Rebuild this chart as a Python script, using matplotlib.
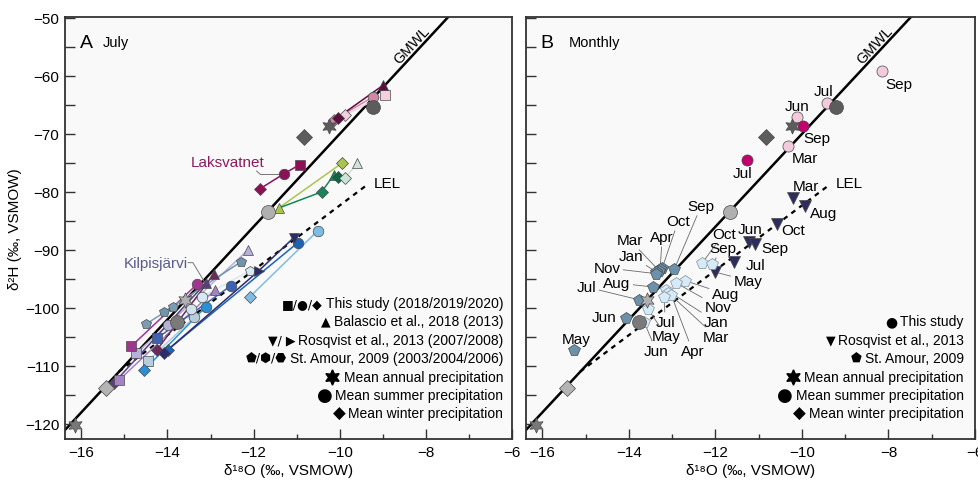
import matplotlib.pyplot as plt
from matplotlib.ticker import MultipleLocator
from matplotlib.offsetbox import AnnotationBbox, DrawingArea
from matplotlib.lines import Line2D

plt.rcParams['font.family'] = ['Liberation Sans', 'DejaVu Sans']

# ---------------- reference lines ----------------
gmwl_x = [-16.6, -7.4]          # GMWL: d2H = 8 d18O + 10
lel_x = [-15.13, -9.35]
lel_y = [-111.0, -78.7]

# ---------------- mean precipitation (both panels) ----------------
mean_x = [-10.24, -10.84, -9.22, -13.59, -15.43, -11.66, -16.15, -13.77]
mean_y = [-68.6, -70.5, -65.3, -98.7, -113.8, -83.4, -120.2, -102.5]
mean_kind = ['annual', 'winter', 'summer', 'annual', 'winter', 'summer', 'annual', 'summer']
mean_col = ['#5c5c5c', '#5c5c5c', '#5c5c5c', '#b0b0b0', '#b4b4b4', '#b0b0b0', '#787878', '#7a7a7a']

# ---------------- panel A: July ----------------
laks_x = [[-11.86, -11.30, -10.93], [-10.14, -9.22], [-9.87, -8.96], [-10.05, -8.99]]
laks_y = [[-79.5, -76.9, -75.3], [-67.6, -63.6], [-66.7, -63.3], [-67.2, -61.6]]
laks_mk = [['D', 'o', 's'], ['D', 'o'], ['D', 's'], ['D', '^']]
laks_col = ['#8c1056', '#cf89a6', '#f3cfdf', '#5e0b3e']

green_x = [[-11.42, -9.94], [-11.42, -10.42, -10.14], [-10.05], [-9.87, -9.59]]
green_y = [[-82.8, -75.0], [-82.8, -80.0, -77.1], [-77.4], [-77.6, -75.0]]
green_mk = [['^', 'D'], [None, 'D', '^'], ['D'], ['D', '^']]
green_col = ['#a9c54f', '#14875a', '#0c6543', '#cde4d6']

kil_x = [[-14.73, -13.99, -12.13], [-15.24, -13.11], [-15.12, -12.90], [-14.24, -12.92],
         [-14.84, -13.31], [-14.50, -13.87], [-14.08, -12.30], [-14.45, -13.38],
         [-13.45], [-13.20, -12.09], [-14.54, -13.11], [-14.24, -12.53],
         [-12.09, -10.51], [-13.99, -10.98], [-14.08, -11.88, -11.07]]
kil_y = [[-107.8, -102.9, -90.0], [-112.9, -95.7], [-112.4, -96.9], [-107.2, -94.1],
         [-106.6, -95.9], [-102.8, -99.8], [-100.7, -92.1], [-109.1, -101.6],
         [-100.2], [-98.1, -93.6], [-110.7, -99.8], [-105.2, -96.2],
         [-98.1, -86.7], [-107.2, -88.8], [-107.8, -93.6, -87.9]]
kil_mk = [['s', 'o', '^'], ['D', '^'], ['s', '^'], ['D', '^'],
          ['s', 'o'], ['p', 'p'], ['p', 'p'], ['s', 'o'],
          ['o'], ['o', 'p'], ['D', 'o'], ['s', 'o'],
          ['D', 'o'], ['D', 'o'], ['D', '>', 'v']]
kil_col = ['#b5b1d9', '#5a3f7c', '#a482c4', '#6b2a58',
           '#a0368f', '#7a9db3', '#6f95ad', '#b6cddb',
           '#cfe3ef', '#d6eaf6', '#2a8fd4', '#3d62b5',
           '#7dbde3', '#1b63b3', '#2c2b6b']

# ---------------- panel B: monthly ----------------
pink_x = [-8.14, -9.42, -10.12, -10.33]
pink_y = [-59.1, -64.7, -67.1, -72.1]
pink_lab = ['Sep', 'Jul', 'Jun', 'Mar']
pink_lab_xy = [(-7.77, -61.4), (-9.51, -62.6), (-10.12, -65.2), (-9.93, -74.1)]

mag_x = [-9.98, -11.26]
mag_y = [-68.6, -74.5]
mag_lab = ['Sep', 'Jul']
mag_lab_xy = [(-9.65, -70.7), (-11.37, -76.7)]

ros_x = [-10.21, -9.93, -10.58, -11.23, -11.09, -11.56, -12.02]
ros_y = [-81.0, -82.4, -85.5, -88.6, -89.0, -92.1, -93.8]
ros_lab = ['Mar', 'Aug', 'Oct', 'Jun', 'Sep', 'Jul', 'May']
ros_lab_xy = [(-9.91, -79.0), (-9.51, -83.6), (-10.21, -86.6), (-11.21, -86.4),
              (-10.63, -89.7), (-11.07, -92.6), (-11.25, -95.3)]
ros_lead = [False, False, False, False, False, False, True]

steel_x = [-12.95, -13.23, -13.28, -13.30, -13.37, -13.37, -13.44, -13.77, -14.07, -15.28]
steel_y = [-93.3, -93.1, -93.3, -93.6, -93.8, -94.1, -96.4, -98.6, -101.7, -107.2]
steel_lab = ['Sep', 'Oct', 'Apr', 'Mar', 'Jan', 'Nov', 'Aug', 'Jul', 'Jun', 'May']
steel_lab_xy = [(-12.33, -82.4), (-12.86, -85.0), (-13.23, -87.8), (-13.98, -88.3),
                (-13.95, -91.0), (-14.51, -93.1), (-14.28, -95.7), (-14.98, -96.4),
                (-14.58, -101.6), (-15.21, -105.3)]
steel_lead = [True, True, True, True, True, True, True, True, False, False]

pale_x = [-12.30, -12.07, -12.70, -12.91, -13.14, -13.09, -13.02, -13.19, -13.56, -13.65]
pale_y = [-92.2, -92.4, -95.3, -95.7, -96.9, -97.4, -97.8, -98.1, -100.2, -102.4]
pale_lab = ['Oct', 'Sep', 'Aug', 'Nov', 'Jan', 'Mar', 'Apr', 'Jul', 'May', 'Jun']
pale_lab_xy = [(-11.81, -87.2), (-11.84, -89.7), (-11.77, -97.6), (-11.93, -99.8),
               (-11.98, -102.4), (-11.98, -105.0), (-12.53, -107.4), (-13.16, -102.4),
               (-13.14, -104.8), (-13.37, -107.4)]

# legend rows: symbol text (None -> star marker), label, symbol size
legend_a = [('■/●/◆', 'This study (2018/2019/2020)', 9),
            ('▲', 'Balascio et al., 2018 (2013)', 9),
            ('▼/ ▶', 'Rosqvist et al., 2013 (2007/2008)', 9),
            ('⬟/⬢/⬣', 'St. Amour, 2009 (2003/2004/2006)', 9),
            (None, 'Mean annual precipitation', 13),
            ('●', 'Mean summer precipitation', 13),
            ('◆', 'Mean winter precipitation', 12)]
legend_b = [('●', 'This study', 10),
            ('▼', 'Rosqvist et al., 2013', 9),
            ('⬟', 'St. Amour, 2009', 9),
            (None, 'Mean annual precipitation', 13),
            ('●', 'Mean summer precipitation', 13),
            ('◆', 'Mean winter precipitation', 12)]

EDGE = '#4a4a4a'
STAR = (6, 1, 0)


def draw_paths(ax, xs, ys, mks, cols, ms=7.6):
    for px, py, mk, c in zip(xs, ys, mks, cols):
        if len(px) > 1:
            ax.plot(px, py, color=c, lw=1.1, zorder=2)
        for x, y, m in zip(px, py, mk):
            if m is None:
                continue
            s = ms * 0.85 if m == 'D' else ms
            ax.plot(x, y, marker=m, ms=s, mfc=c, mec=EDGE, mew=0.5, ls='none', zorder=3)


def draw_base(ax):
    ax.set_facecolor('#f9f9f9')
    ax.plot(gmwl_x, [8 * v + 10 for v in gmwl_x], color='black', lw=1.8, zorder=1)
    ax.plot(lel_x, lel_y, color='black', lw=1.6, ls=(0, (2.2, 2.2)), zorder=1)
    ax.text(-9.22, -78.4, 'LEL', fontsize=11, ha='left', va='center')
    ax.text(-8.32, -54.6, 'GMWL', fontsize=10.5, rotation=47, ha='center', va='center',
            rotation_mode='anchor')
    for x, y, k, c in zip(mean_x, mean_y, mean_kind, mean_col):
        m = {'annual': STAR, 'winter': 'D', 'summer': 'o'}[k]
        s = {'annual': 11, 'winter': 7.8, 'summer': 10}[k]
        ax.plot(x, y, marker=m, ms=s, mfc=c, mec=EDGE, mew=0.5, ls='none', zorder=4)
    ax.set_xlim(-16.38, -6.0)
    ax.set_ylim(-122.6, -49.85)
    ax.xaxis.set_major_locator(MultipleLocator(2))
    ax.xaxis.set_minor_locator(MultipleLocator(1))
    ax.yaxis.set_major_locator(MultipleLocator(10))
    ax.yaxis.set_minor_locator(MultipleLocator(5))
    ax.tick_params(which='both', direction='in', color='#333333', width=1.0,
                   labelsize=11, pad=4)
    ax.tick_params(which='major', length=7)
    ax.tick_params(axis='x', which='minor', length=3.5)
    ax.tick_params(axis='y', which='minor', length=7)
    for s in ax.spines.values():
        s.set_color('#333333')
        s.set_linewidth(1.3)
    ax.set_xlabel('δ¹⁸O (‰, VSMOW)', fontsize=11, labelpad=3)


def draw_legend(ax, rows, x, ys):
    for (sym, lab, ss), y in zip(rows, ys):
        t = ax.text(x, y, lab, transform=ax.transAxes, ha='right', va='center', fontsize=10)
        if sym is None:
            da = DrawingArea(12, 12, 0, 0)
            da.add_artist(Line2D([6], [6], marker=STAR, ms=11, mfc='black', mec='black', ls='none'))
            ab = AnnotationBbox(da, (0, 0.5), xycoords=t, xybox=(-8, 0), boxcoords='offset points',
                                frameon=False, pad=0)
            ax.add_artist(ab)
        else:
            ax.annotate(sym, xy=(0, 0.5), xycoords=t, xytext=(-2, 0), textcoords='offset points',
                        ha='right', va='center', fontsize=ss, family=['DejaVu Sans'])


def month_labels(ax, px, py, labs, lxy, leads=None, fs=11):
    for i, (x, y, lab, (lx, ly)) in enumerate(zip(px, py, labs, lxy)):
        lead = True if leads is None else leads[i]
        if lead:
            ax.annotate(lab, xy=(x, y), xytext=(lx, ly), ha='center', va='center', fontsize=fs,
                        zorder=2.5, arrowprops=dict(arrowstyle='-', color='#6a6a6a', lw=0.6,
                                                    shrinkA=0, shrinkB=3))
        else:
            ax.text(lx, ly, lab, ha='center', va='center', fontsize=fs, zorder=2.5)


fig = plt.figure(figsize=(9.79, 4.85), dpi=100)
axA = fig.add_axes([65 / 979, 45 / 485, 447 / 979, 422 / 485])
axB = fig.add_axes([526 / 979, 45 / 485, 449 / 979, 422 / 485])

# ----- panel A -----
draw_base(axA)
draw_paths(axA, laks_x, laks_y, laks_mk, laks_col)
draw_paths(axA, green_x, green_y, green_mk, green_col)
draw_paths(axA, kil_x, kil_y, kil_mk, kil_col)
axA.text(-12.61, -74.8, 'Laksvatnet', color='#8c1a5e', fontsize=11, ha='center', va='center')
axA.plot([-11.93, -11.84, -11.40], [-76.4, -77.0, -77.0], color='#777777', lw=0.7, zorder=2)
axA.text(-14.27, -92.2, 'Kilpisjärvi', color='#5b5a8c', fontsize=11, ha='center', va='center')
axA.plot([-13.52, -13.41, -13.15], [-92.2, -92.2, -95.4], color='#777777', lw=0.7, zorder=2)
axA.text(0.033, 0.94, 'A', transform=axA.transAxes, fontsize=14, va='center')
axA.text(0.085, 0.94, 'July', transform=axA.transAxes, fontsize=10.5, va='center')
axA.set_ylabel('δ²H (‰, VSMOW)', fontsize=11, labelpad=2)
draw_legend(axA, legend_a, 0.98, [0.322, 0.280, 0.235, 0.192, 0.147, 0.104, 0.062])

# ----- panel B -----
draw_base(axB)
axB.tick_params(axis='y', labelleft=False)
axB.plot(pink_x, pink_y, 'o', ms=8, mfc='#f2cadb', mec=EDGE, mew=0.5, zorder=3)
axB.plot(mag_x, mag_y, 'o', ms=8, mfc='#c4006f', mec=EDGE, mew=0.5, zorder=3)
axB.plot(ros_x, ros_y, 'v', ms=8, mfc='#2c2c5e', mec=EDGE, mew=0.5, zorder=3)
axB.plot(steel_x, steel_y, 'p', ms=8.5, mfc='#6b91ab', mec=EDGE, mew=0.5, zorder=3)
axB.plot(pale_x, pale_y, 'p', ms=8.5, mfc='#d6eaf7', mec='#7f8f9a', mew=0.5, zorder=3)
month_labels(axB, pink_x, pink_y, pink_lab, pink_lab_xy, [False] * 4)
month_labels(axB, mag_x, mag_y, mag_lab, mag_lab_xy, [False] * 2)
month_labels(axB, ros_x, ros_y, ros_lab, ros_lab_xy, ros_lead)
month_labels(axB, steel_x, steel_y, steel_lab, steel_lab_xy, steel_lead)
month_labels(axB, pale_x, pale_y, pale_lab, pale_lab_xy)
axB.text(0.033, 0.94, 'B', transform=axB.transAxes, fontsize=14, va='center')
axB.text(0.095, 0.94, 'Monthly', transform=axB.transAxes, fontsize=10.5, va='center')
draw_legend(axB, legend_b, 0.975, [0.280, 0.235, 0.192, 0.147, 0.104, 0.062])

fig.savefig('out.png', dpi=100, facecolor='white')
